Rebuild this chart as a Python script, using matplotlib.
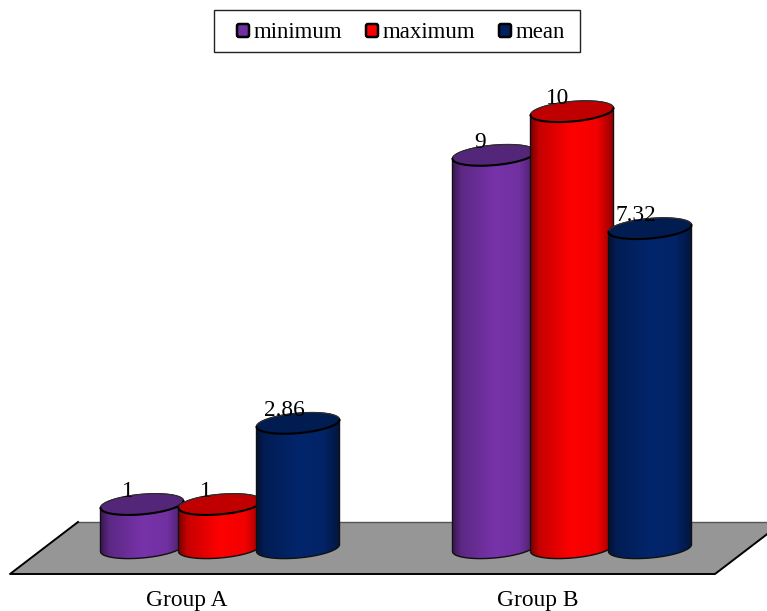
import numpy as np
import matplotlib
matplotlib.use("Agg")
import matplotlib.pyplot as plt
from matplotlib.patches import Polygon, Rectangle, FancyBboxPatch

plt.rcParams['font.family'] = ['Liberation Serif', 'DejaVu Serif']

groups = ["Group A", "Group B"]
series = ["minimum", "maximum", "mean"]
minimum = [1, 9]
maximum = [1, 10]
mean = [2.86, 7.32]
value_labels = [["1", "9"], ["1", "10"], ["2.86", "7.32"]]

body_colors = ["#7733AA", "#FF0000", "#03256C"]
top_colors = ["#54267A", "#C00000", "#001C50"]
swatch_colors = ["#7030A0", "#FF0000", "#002060"]

W, H = 767, 611
PX_PER_UNIT = 43.65
BASE_PX = 548.0
GROUP_CENTERS = [220.0, 572.0]
BAR_STEP = 78.0
HALF_W = 41.5
SEMI_B = 10.0
TILT = 3.5
FONT_PT = 16.8
LEGEND_PT = 16.5


def vy(py):
    """Vertical pixel position expressed in value units."""
    return (BASE_PX - py) / PX_PER_UNIT


fig = plt.figure(figsize=(W / 100, H / 100), dpi=100, facecolor="white")
ax = fig.add_axes([0, 0, 1, 1])
ax.set_axis_off()


def finish_limits():
    ax.set_xlim(0, W)
    ax.set_ylim(vy(H), vy(0))


def ellipse_arc(cx, value, t0, t1, n=60):
    """Points on a slightly tilted ellipse centred at (cx, value)."""
    t = np.linspace(t0, t1, n)
    x = cx + HALF_W * np.cos(t)
    py = -SEMI_B * np.sin(t) - TILT * np.cos(t)
    return x, value - py / PX_PER_UNIT


def shade(color):
    """Horizontal shading across a cylinder: dark edges, bright near the middle."""
    rgb = np.array(matplotlib.colors.to_rgb(color))
    u = np.linspace(0, 1, 128)
    f = np.interp(u, [0, 0.1, 0.5, 0.8, 1.0], [0.5, 0.78, 1.0, 0.95, 0.58])
    return (rgb[None, None, :] * f[None, :, None]).clip(0, 1)


def cylinder(cx, value, body, top, label, z):
    xb, yb = ellipse_arc(cx, 0.0, np.pi, 2 * np.pi)
    xt, yt = ellipse_arc(cx, value, 0, np.pi)
    outline = np.column_stack([np.r_[xb, xt], np.r_[yb, yt]])
    poly = Polygon(outline, closed=True, transform=ax.transData, facecolor="none",
                   edgecolor="#101010", linewidth=1.0, zorder=z + 0.2)
    ax.add_patch(poly)
    img = ax.imshow(shade(body), extent=[cx - HALF_W, cx + HALF_W, -1, value + 1],
                    aspect="auto", zorder=z, interpolation="bilinear")
    img.set_clip_path(poly)

    xa, ya = ellipse_arc(cx, value, 0, 2 * np.pi, 120)
    ax.add_patch(Polygon(np.column_stack([xa, ya]), closed=True, facecolor=top,
                         edgecolor="#303030", linewidth=0.8, zorder=z + 0.3))
    xf, yf = ellipse_arc(cx, value, np.pi, 2 * np.pi)
    ax.plot(xf, yf, color="black", linewidth=1.5, zorder=z + 0.4, solid_capstyle="round")
    ax.text(cx - 14, value + 12.5 / PX_PER_UNIT, label, ha="center", va="center",
            fontsize=FONT_PT, color="black", zorder=20)


# Floor of the chart
floor = [(10, vy(574)), (78, vy(522)), (783, vy(522)), (715, vy(574))]
ax.add_patch(Polygon(floor, closed=True, facecolor="#969696", edgecolor="none", zorder=1))
ax.plot([78, 783], [vy(522), vy(522)], color="#555555", lw=1.0, zorder=1.1)
ax.plot([78, 10, 715, 783],
        [vy(522), vy(574), vy(574), vy(522)], color="black", lw=1.4, zorder=1.2)

# Cylinders, drawn left to right so that each one overlaps its neighbour
values = [minimum, maximum, mean]
z = 2
for g, center in enumerate(GROUP_CENTERS):
    for s in range(len(series)):
        cylinder(center + (s - 1) * BAR_STEP, values[s][g], body_colors[s], top_colors[s],
                 value_labels[s][g], z)
        z += 1

# Category labels
for center, name in zip([186.5, 537.5], groups):
    ax.text(center, vy(600.5), name, ha="center", va="center", fontsize=FONT_PT, color="black")

# Legend
ax.add_patch(Rectangle((213.5, vy(52)), 366.5, vy(10) - vy(52), facecolor="white",
                       edgecolor="#222222", linewidth=1.0, zorder=30))
for name, color, sx, tx in zip(series, swatch_colors, [237, 366, 499], [254, 383, 516]):
    ax.add_patch(FancyBboxPatch((sx, vy(37)), 12, vy(24) - vy(37),
                                boxstyle="round,pad=0,rounding_size=2",
                                mutation_aspect=1 / PX_PER_UNIT,
                                facecolor=color, edgecolor="black", linewidth=1.8, zorder=31))
    ax.text(tx, vy(32), name, ha="left", va="center", fontsize=LEGEND_PT, color="black", zorder=31)

finish_limits()
fig.savefig("out.png", dpi=100, facecolor="white")
